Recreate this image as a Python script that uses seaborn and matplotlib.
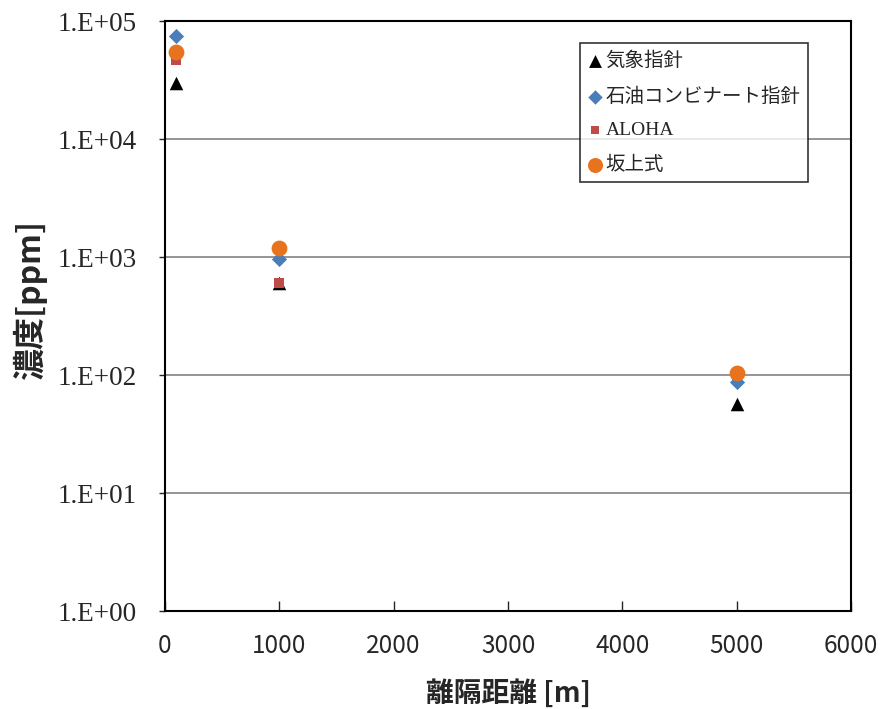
import numpy as np
import pandas as pd
import matplotlib
matplotlib.use("Agg")
import matplotlib.pyplot as plt
import seaborn as sns
from matplotlib.ticker import FuncFormatter, FixedLocator, NullLocator

# distance [m]
distance = [100, 1000, 5000]

# concentration [ppm] per method
kisho = [3.0e4, 600, 57]            # 気象指針
sekiyu = [7.5e4, 970, 87]           # 石油コンビナート指針
aloha = [4.7e4, 610, 100]           # ALOHA
sakagami = [5.5e4, 1200, 104]       # 坂上式

series_names = ["気象指針", "石油コンビナート指針", "ALOHA", "坂上式"]
series_values = [kisho, sekiyu, aloha, sakagami]

yticks = [1e0, 1e1, 1e2, 1e3, 1e4, 1e5]
xticks = [0, 1000, 2000, 3000, 4000, 5000, 6000]

markers = ["^", "D", "s", "o"]
colors = ["#000000", "#4a7ebb", "#be4b48", "#e8731f"]
msizes = [95, 60, 45, 130]

sns.set_style("white")
plt.rcParams['font.family'] = ['Noto Sans CJK JP', 'DejaVu Sans']

fig = plt.figure(figsize=(8.82, 7.09), dpi=100)
ax = fig.add_axes([0.187, 0.138, 0.778, 0.832])

for name, vals, m, c, s in zip(series_names, series_values, markers, colors, msizes):
    df = pd.DataFrame({"x": distance, "y": vals})
    sns.scatterplot(data=df, x="x", y="y", marker=m, color=c, s=s,
                    linewidth=0, label=name, ax=ax, zorder=3)

ax.set_yscale("log")
ax.set_ylim(1e0, 1e5)
ax.set_xlim(0, 6000)
ax.yaxis.set_major_locator(FixedLocator(yticks))
ax.yaxis.set_minor_locator(NullLocator())
ax.yaxis.set_major_formatter(FuncFormatter(lambda v, p: "1.E+%02d" % int(round(np.log10(v)))))
ax.set_xticks(xticks)

ax.grid(axis="y", color="#8c8c8c", linewidth=1.3)
ax.grid(axis="x", visible=False)
for sp in ax.spines.values():
    sp.set_color("black")
    sp.set_linewidth(1.5)

ax.tick_params(axis="x", direction="in", length=7, width=1, pad=16, bottom=True)
ax.tick_params(axis="y", direction="out", length=4, width=1, pad=16, left=True)
for lab in ax.get_yticklabels():
    lab.set_family(["Liberation Serif", "DejaVu Serif"])
    lab.set_fontsize(19.5)
for lab in ax.get_xticklabels():
    lab.set_family(["Liberation Sans Narrow", "Noto Sans CJK JP"])
    lab.set_fontsize(17.5)

ax.set_xlabel("離隔距離 [m]", fontsize=20, fontweight="bold", labelpad=14)
ax.set_ylabel("濃度[ppm]", fontsize=23, fontweight="bold")
ax.yaxis.set_label_coords(-0.172, 0.527)

leg = ax.legend(loc="upper left", bbox_to_anchor=(0.605, 0.964), borderaxespad=0,
                frameon=True, fancybox=False, edgecolor="black", fontsize=14,
                handlelength=0.7, handletextpad=0.2, labelspacing=0.75,
                borderpad=0.4, markerscale=0.95)
leg.get_frame().set_linewidth(1.2)
for t in leg.get_texts():
    if t.get_text() == "ALOHA":
        t.set_family(["Liberation Serif", "DejaVu Serif"])

fig.savefig("out.png", dpi=100)
